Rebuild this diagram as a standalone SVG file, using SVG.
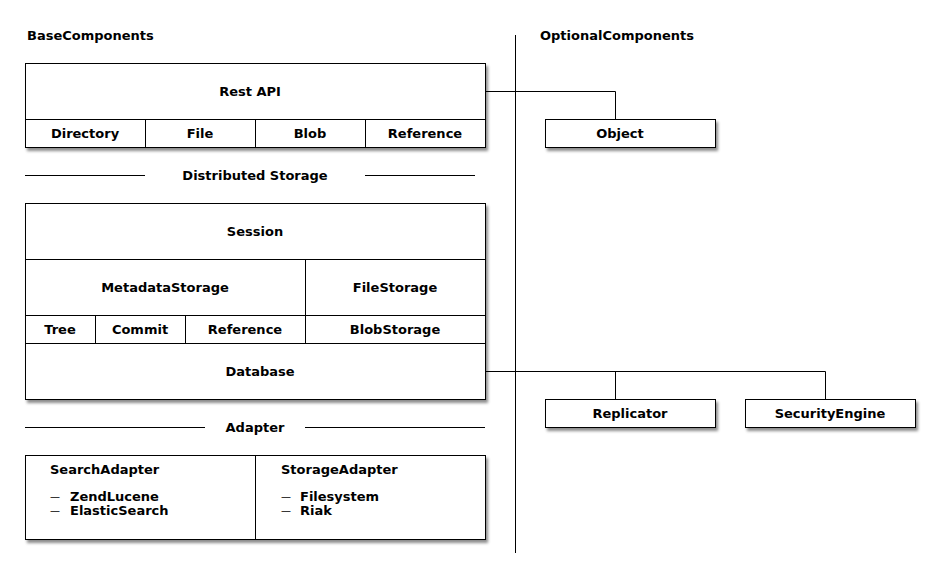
<svg xmlns="http://www.w3.org/2000/svg" width="940" height="588" viewBox="0 0 940 588">
<style>
text{font-family:"DejaVu Sans","Liberation Sans",sans-serif;font-weight:bold;font-size:13px;fill:#000}
.c{text-anchor:middle}
.d{font-size:10px;font-weight:normal}
.box{fill:#fff;stroke:#000;stroke-width:1}
.ln{stroke:#000;stroke-width:1;fill:none}
</style>
<defs>
<filter id="sh" x="-10%" y="-10%" width="120%" height="130%">
<feDropShadow dx="2" dy="3" stdDeviation="1.5" flood-color="#000" flood-opacity="0.45"/>
</filter>
</defs>
<rect width="940" height="588" fill="#fff"/>
<text x="27" y="40">BaseComponents</text>
<text x="540" y="40">OptionalComponents</text>
<g id="connectors">
<line class="ln" x1="515.5" y1="35" x2="515.5" y2="553"/>
<polyline class="ln" points="485,91.5 615.5,91.5 615.5,119"/>
<polyline class="ln" points="485,371.5 825.5,371.5 825.5,399"/>
<line class="ln" x1="615.5" y1="371.5" x2="615.5" y2="399"/>
</g>
<g id="restapi">
<rect class="box" x="25.5" y="63.5" width="460" height="84" filter="url(#sh)"/>
<line class="ln" x1="25.5" y1="119.5" x2="485.5" y2="119.5"/>
<line class="ln" x1="145.5" y1="119.5" x2="145.5" y2="147.5"/>
<line class="ln" x1="255.5" y1="119.5" x2="255.5" y2="147.5"/>
<line class="ln" x1="365.5" y1="119.5" x2="365.5" y2="147.5"/>
<text class="c" x="250" y="96">Rest API</text>
<text class="c" x="85" y="138">Directory</text>
<text class="c" x="200" y="138">File</text>
<text class="c" x="310" y="138">Blob</text>
<text class="c" x="425" y="138">Reference</text>
</g>
<g id="object">
<rect class="box" x="545.5" y="119.5" width="170" height="28" filter="url(#sh)"/>
<text class="c" x="620" y="138">Object</text>
</g>
<g id="distributed">
<line class="ln" x1="25" y1="175.5" x2="145" y2="175.5"/>
<line class="ln" x1="365" y1="175.5" x2="475" y2="175.5"/>
<text class="c" x="255" y="180">Distributed Storage</text>
</g>
<g id="storage">
<rect class="box" x="25.5" y="203.5" width="460" height="196" filter="url(#sh)"/>
<line class="ln" x1="25.5" y1="259.5" x2="485.5" y2="259.5"/>
<line class="ln" x1="25.5" y1="315.5" x2="485.5" y2="315.5"/>
<line class="ln" x1="25.5" y1="343.5" x2="485.5" y2="343.5"/>
<line class="ln" x1="305.5" y1="259.5" x2="305.5" y2="343.5"/>
<line class="ln" x1="95.5" y1="315.5" x2="95.5" y2="343.5"/>
<line class="ln" x1="185.5" y1="315.5" x2="185.5" y2="343.5"/>
<text class="c" x="255" y="236">Session</text>
<text class="c" x="165" y="292">MetadataStorage</text>
<text class="c" x="395" y="292">FileStorage</text>
<text class="c" x="60" y="334">Tree</text>
<text class="c" x="140" y="334">Commit</text>
<text class="c" x="245" y="334">Reference</text>
<text class="c" x="395" y="334">BlobStorage</text>
<text class="c" x="260" y="376">Database</text>
</g>
<g id="replicator">
<rect class="box" x="545.5" y="399.5" width="170" height="28" filter="url(#sh)"/>
<text class="c" x="630" y="418">Replicator</text>
</g>
<g id="security">
<rect class="box" x="745.5" y="399.5" width="170" height="28" filter="url(#sh)"/>
<text class="c" x="830" y="418">SecurityEngine</text>
</g>
<g id="adapterlabel">
<line class="ln" x1="25" y1="427.5" x2="205" y2="427.5"/>
<line class="ln" x1="305" y1="427.5" x2="485" y2="427.5"/>
<text class="c" x="255" y="432">Adapter</text>
</g>
<g id="adapters">
<rect class="box" x="25.5" y="455.5" width="460" height="84" filter="url(#sh)"/>
<line class="ln" x1="255.5" y1="455.5" x2="255.5" y2="539.5"/>
<text x="50" y="474">SearchAdapter</text>
<text class="d" x="50" y="500">—</text>
<text class="d" x="50" y="514">—</text>
<text x="70" y="501">ZendLucene</text>
<text x="70" y="515">ElasticSearch</text>
<text x="281" y="474">StorageAdapter</text>
<text class="d" x="281" y="500">—</text>
<text class="d" x="281" y="514">—</text>
<text x="300" y="501">Filesystem</text>
<text x="300" y="515">Riak</text>
</g>
</svg>
